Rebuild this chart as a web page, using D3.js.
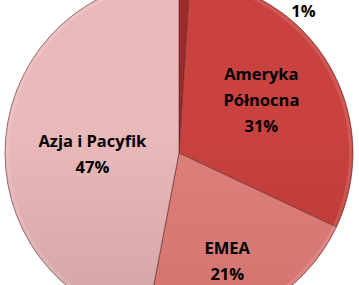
<!DOCTYPE html>
<html>
<head>
<meta charset="utf-8">
<script src="https://cdn.jsdelivr.net/npm/d3@7"></script>
<style>
  html, body { margin: 0; padding: 0; background: #fff; }
  svg { display: block; }
</style>
</head>
<body>
<div id="chart"></div>
<script>
// data
var regions = ["", "Ameryka\nPółnocna", "EMEA", "Azja i Pacyfik"];
var shares = [1, 31, 21, 47];
var percentLabels = ["1%", "31%", "21%", "47%"];
var topColors = ["#9a2c2a", "#c9423f", "#df7f7c", "#eab9b9"];
var bottomColors = ["#7a1e1c", "#a5302d", "#c96a67", "#c09292"];

var width = 359, height = 285;
var cx = 179, cy = 153, r = 174;

var svg = d3.select("#chart").append("svg")
  .attr("width", width)
  .attr("height", height);

var defs = svg.append("defs");
topColors.forEach(function(c, i) {
  var g = defs.append("linearGradient")
    .attr("id", "grad" + i)
    .attr("gradientUnits", "userSpaceOnUse")
    .attr("x1", 0).attr("y1", cy - r)
    .attr("x2", 0).attr("y2", cy + r);
  g.append("stop").attr("offset", "0%").attr("stop-color", c);
  g.append("stop").attr("offset", "100%").attr("stop-color", bottomColors[i]);
});

var pie = d3.pie().sort(null).value(function(d) { return d; });
var arcs = pie(shares);

var arc = d3.arc().innerRadius(0).outerRadius(r);

var g = svg.append("g").attr("transform", "translate(" + cx + "," + cy + ")");

// slices
g.selectAll("path.slice")
  .data(arcs)
  .enter().append("path")
  .attr("class", "slice")
  .attr("d", arc)
  .attr("fill", function(d, i) { return "url(#grad" + i + ")"; })
  .attr("stroke", "#5a2a2a")
  .attr("stroke-opacity", 0.6)
  .attr("stroke-width", 1);

// soft bevel highlight along the inner edge
g.selectAll("path.bevel")
  .data(arcs)
  .enter().append("path")
  .attr("class", "bevel")
  .attr("d", d3.arc().innerRadius(r - 4).outerRadius(r - 1))
  .attr("fill", "#ffffff")
  .attr("opacity", 0.12);

// labels
var fontFamily = "'Open Sans', 'DejaVu Sans', sans-serif";
function labelPos(d, i) {
  var mid = (d.startAngle + d.endAngle) / 2;
  if (i === 0) return [r * 0.715, -r * 0.815]; // tiny slice: label outside, upper right
  var lr = i === 3 ? r * 0.5 : (i === 2 ? r * 0.7 : r * 0.55);
  var dx = i === 2 ? -7 : 0;
  var dy = i === 3 ? 9 : (i === 1 ? -4 : 0);
  return [Math.sin(mid) * lr + dx, -Math.cos(mid) * lr + dy];
}

arcs.forEach(function(d, i) {
  var p = labelPos(d, i);
  var lines = regions[i] ? regions[i].split("\n") : [];
  lines.push(percentLabels[i]);
  var lineH = 26;
  var t = g.append("text")
    .attr("text-anchor", "middle")
    .style("font-family", fontFamily)
    .style("font-weight", "bold")
    .style("font-size", "16.5px")
    .attr("fill", "#000");
  lines.forEach(function(line, k) {
    t.append("tspan")
      .attr("x", p[0])
      .attr("y", p[1] + (k - (lines.length - 1) / 2) * lineH)
      .attr("dy", "0.35em")
      .text(line);
  });
});
</script>
</body>
</html>
